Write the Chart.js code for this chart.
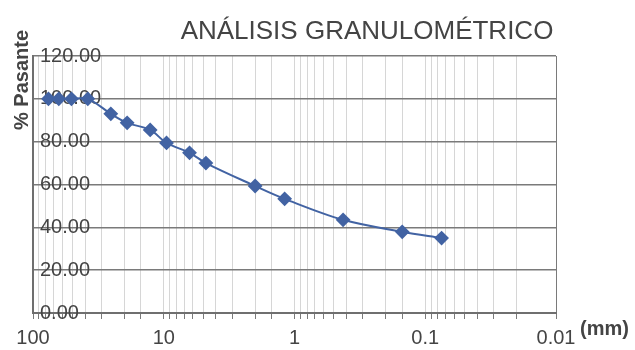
<!DOCTYPE html>
<html>
<head>
<meta charset="utf-8">
<script src="https://cdn.jsdelivr.net/npm/chart.js@4"></script>
<style>
    html, body { margin: 0; padding: 0; background: #fff; }
    #wrap { width: 635px; height: 350px; }
</style>
</head>
<body>
<div id="wrap"><canvas id="granChart"></canvas></div>
<script>
// abertura de tamiz (mm) y % que pasa
const sieveSizes = [76.2, 63.5, 50.8, 38.1, 25.4, 19.05, 12.7, 9.525, 6.35, 4.76, 2.0, 1.19, 0.425, 0.15, 0.075];
const passing = [100, 100, 100, 100, 93.0, 88.8, 85.5, 79.4, 74.8, 70.0, 59.3, 53.3, 43.5, 37.9, 35.0];
const xTickLabels = ['100', '10', '1', '0.1', '0.01'];
const yTicks = [0, 20, 40, 60, 80, 100, 120];

const textColor = '#444444';
const fontFamily = '"Liberation Sans", Arial, sans-serif';

const isDecade = (v) => {
    const l = Math.log10(v);
    return Math.abs(l - Math.round(l)) < 1e-9;
};

const extraText = {
    id: 'extraText',
    afterDraw(chart) {
        const ctx = chart.ctx;
        ctx.save();
        ctx.fillStyle = textColor;
        ctx.textBaseline = 'middle';

        ctx.font = '26px ' + fontFamily;
        ctx.textAlign = 'center';
        ctx.fillText('ANÁLISIS GRANULOMÉTRICO', 367, 32);

        ctx.font = 'bold 20px ' + fontFamily;
        ctx.textAlign = 'left';
        ctx.fillText('(mm)', 580, 329);

        ctx.translate(22, 80);
        ctx.rotate(-Math.PI / 2);
        ctx.font = 'bold 20px ' + fontFamily;
        ctx.textAlign = 'center';
        ctx.fillText('% Pasante', 0, 0);
        ctx.restore();
    }
};

const ctx = document.getElementById('granChart').getContext('2d');
const granChart = new Chart(ctx, {
    type: 'line',
    data: {
        datasets: [{
            label: '% Pasante',
            data: sieveSizes.map((s, i) => ({ x: s, y: passing[i] })),
            borderColor: '#4263a3',
            backgroundColor: '#4263a3',
            borderWidth: 2,
            pointStyle: 'rectRot',
            pointRadius: 6,
            pointHoverRadius: 6,
            tension: 0.35,
            fill: false
        }]
    },
    plugins: [extraText],
    options: {
        responsive: true,
        maintainAspectRatio: false,
        animation: false,
        layout: {
            padding: { left: 33, right: 79, top: 56, bottom: 0 }
        },
        plugins: {
            legend: { display: false },
            title: { display: false },
            tooltip: { enabled: false }
        },
        scales: {
            x: {
                type: 'logarithmic',
                reverse: true,
                min: 0.01,
                max: 100,
                afterFit: (axis) => {
                    axis.height = 37;
                    axis.paddingLeft = 0;
                    axis.paddingRight = 0;
                },
                grid: {
                    color: (c) => (c.tick && (c.tick.value === 0.01)) ? '#7a7a7a' : '#d6d6d6',
                    lineWidth: 1,
                    tickLength: 6,
                    tickColor: '#7a7a7a'
                },
                border: { color: '#6f6f6f', width: 2 },
                ticks: {
                    autoSkip: false,
                    maxRotation: 0,
                    padding: 7,
                    color: textColor,
                    font: { family: fontFamily, size: 20 },
                    callback: (v) => {
                        if (!isDecade(v)) return '';
                        const s = String(Number(v.toPrecision(1)));
                        return xTickLabels.includes(s) ? s : '';
                    }
                }
            },
            y: {
                min: 0,
                max: 120,
                afterBuildTicks: (axis) => {
                    axis.ticks = yTicks.map((v) => ({ value: v }));
                },
                afterFit: (axis) => {
                    axis.width = 0;
                    axis.paddingTop = 0;
                    axis.paddingBottom = 0;
                },
                grid: {
                    color: '#7a7a7a',
                    lineWidth: 1.5,
                    drawTicks: false
                },
                border: { color: '#6f6f6f', width: 2 },
                ticks: {
                    mirror: true,
                    padding: 7,
                    color: textColor,
                    font: { family: fontFamily, size: 20 },
                    callback: (v) => v.toFixed(2)
                }
            }
        }
    }
});
</script>
</body>
</html>
